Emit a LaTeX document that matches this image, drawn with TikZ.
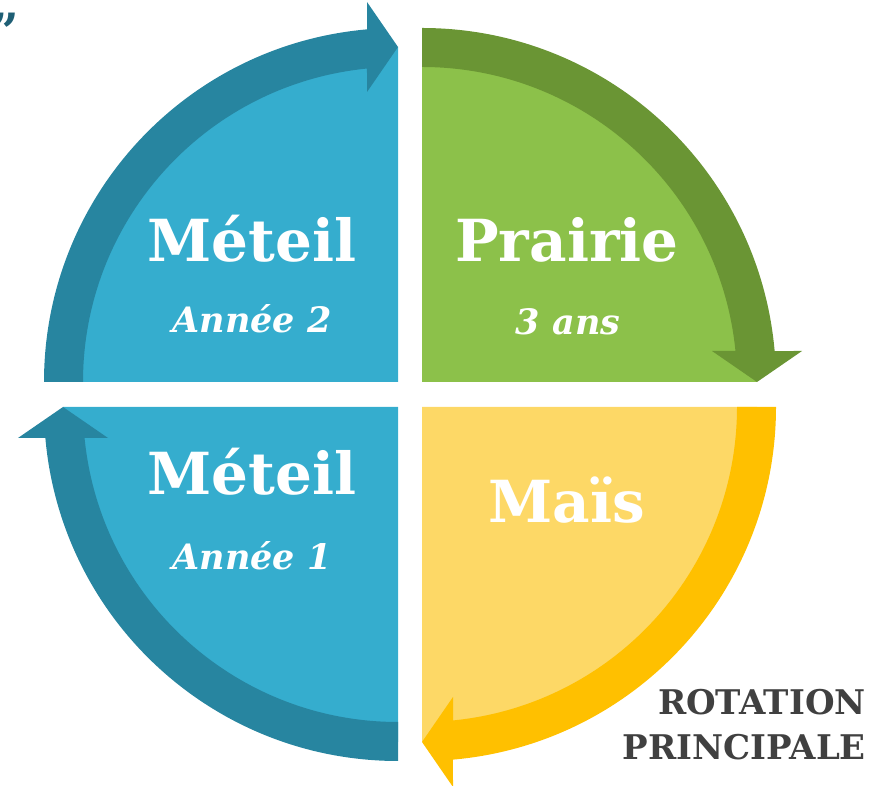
\documentclass[tikz,border=0pt]{standalone}
\usepackage{fontspec}
\setmainfont{DejaVu Serif}
\usepackage{xcolor}

\definecolor{bleuclair}{RGB}{53,173,206}
\definecolor{bleufonce}{RGB}{39,133,160}
\definecolor{vertclair}{RGB}{140,193,74}
\definecolor{vertfonce}{RGB}{106,149,52}
\definecolor{jauneclair}{RGB}{253,216,102}
\definecolor{jaunefonce}{RGB}{255,192,0}
\definecolor{gristexte}{RGB}{64,64,64}
\definecolor{guillemet}{RGB}{31,95,117}

% quart de disque clair, coin en #1
\newcommand{\quartier}[3]{%
  \fill[#3] #1 -- ++(#2:335) arc[start angle=#2,end angle=#2-90,radius=335] -- cycle;}
% anneau fleche, coin en #1, rotation #2
\newcommand{\anneau}[3]{%
  \fill[#3,shift={#1},rotate=#2] (180:354) arc[start angle=180,end angle=95.02,radius=354]
    -- (-31,380) -- (0,335) -- (-31,290) -- (95.65:315)
    arc[start angle=95.65,end angle=180,radius=315] -- cycle;}

\tikzset{
  titre/.style={text=white,inner sep=0pt,anchor=base,font=\bfseries\fontsize{58}{60}\selectfont},
  soustitre/.style={text=white,inner sep=0pt,anchor=base,font=\bfseries\itshape\fontsize{35}{38}\selectfont},
  legende/.style={text=gristexte,inner sep=0pt,anchor=base east,font=\bfseries\fontsize{34}{36}\selectfont}
}

\begin{document}
\begin{tikzpicture}[x=1pt,y=1pt]%
    \useasboundingbox (0,0) rectangle (872,786);%
    % quartiers
    \quartier{(398,404)}{180}{bleuclair}%
    \quartier{(422,404)}{90}{vertclair}%
    \quartier{(422,379)}{0}{jauneclair}%
    \quartier{(398,379)}{-90}{bleuclair}%
    % fleches
    \anneau{(398,404)}{0}{bleufonce}%
    \anneau{(422,404)}{-90}{vertfonce}%
    \anneau{(422,379)}{-180}{jaunefonce}%
    \anneau{(398,379)}{90}{bleufonce}%
    % textes
    \node[titre] (meteilhaut) at (252,524) {Méteil};%
    \node[soustitre] (annee2) at (252,453) {Année 2};%
    \node[titre] (prairie) at (567,524) {Prairie};%
    \node[soustitre] (troisans) at (568,451) {3 ans};%
    \node[titre] (meteilbas) at (252,291) {Méteil};%
    \node[soustitre] (annee1) at (252,216) {Année 1};%
    \node[titre] (mais) at (567,263) {Maïs};%
    \node[legende] (rotation) at (866,71) {ROTATION};%
    \node[legende] (principale) at (866,26) {PRINCIPALE};%
    \node[text=guillemet,inner sep=0pt,anchor=north east,font=\bfseries\fontsize{50}{50}\selectfont] (guill) at (19,773) {”};%
\end{tikzpicture}
\end{document}
